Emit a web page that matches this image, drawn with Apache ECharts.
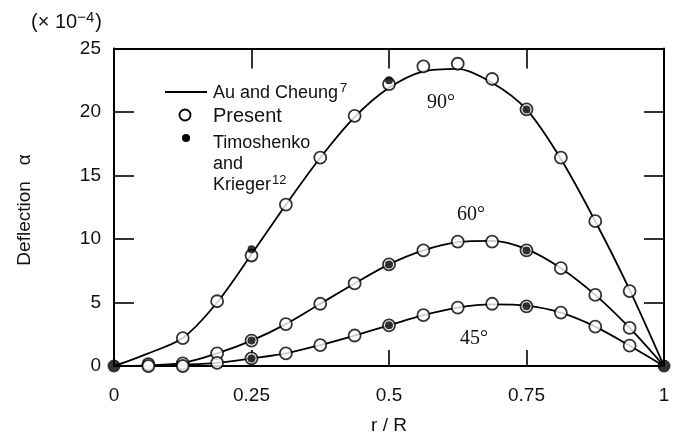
<!DOCTYPE html>
<html>
<head>
<meta charset="utf-8">
<script src="https://cdn.jsdelivr.net/npm/echarts@6/dist/echarts.min.js"></script>
<style>
    html, body { margin: 0; padding: 0; background: #fff; }
    #main { width: 676px; height: 435px; }
</style>
</head>
<body>
<div id="main"></div>
<script>
// r/R positions of the computed points
var rValues = [0, 0.0625, 0.125, 0.1875, 0.25, 0.3125, 0.375, 0.4375, 0.5,
    0.5625, 0.625, 0.6875, 0.75, 0.8125, 0.875, 0.9375, 1];

// Au and Cheung (solid curves), x 10^-4
var auCheung90 = [0, 1.0, 2.2, 5.0, 8.8, 12.7, 16.4, 19.6, 21.9, 23.2, 23.4, 22.3, 20.2, 16.3, 11.4, 6.0, 0];
var auCheung60 = [0, 0.05, 0.25, 1.0, 2.0, 3.3, 4.9, 6.5, 8.0, 9.1, 9.75, 9.85, 9.2, 7.7, 5.6, 3.0, 0];
var auCheung45 = [0, 0, 0.1, 0.25, 0.6, 1.0, 1.65, 2.4, 3.2, 4.0, 4.6, 4.85, 4.75, 4.2, 3.1, 1.6, 0];

// Present (open circles)
var present90 = [null, null, 2.2, 5.1, 8.7, 12.7, 16.4, 19.7, 22.2, 23.6, 23.8, 22.6, 20.2, 16.4, 11.4, 5.9, null];
var present60 = [null, 0.15, 0.2, 1.0, 2.0, 3.3, 4.9, 6.5, 8.0, 9.1, 9.8, 9.8, 9.1, 7.7, 5.6, 3.0, null];
var present45 = [null, 0, 0, 0.25, 0.6, 1.0, 1.65, 2.4, 3.2, 4.0, 4.6, 4.9, 4.7, 4.2, 3.1, 1.6, null];

// Timoshenko and Krieger (filled dots)
var timoR = [0.25, 0.5, 0.75];
var timo90 = [9.2, 22.5, 20.2];
var timo60 = [2.0, 8.0, 9.1];
var timo45 = [0.6, 3.2, 4.7];
var endR = [0, 1];
var endValues = [0, 0];

var yTicks = [0, 5, 10, 15, 20, 25];

function pairs(xs, ys) {
    var out = [];
    for (var i = 0; i < xs.length; i++) {
        if (ys[i] !== null) out.push([xs[i], ys[i]]);
    }
    return out;
}

var myChart = echarts.init(document.getElementById('main'));
var font = '"Liberation Sans", Arial, sans-serif';
var serif = '"Liberation Serif", "Times New Roman", serif';
var axisLine = { show: true, onZero: false, lineStyle: { color: '#000', width: 2 } };

function curve(values) {
    return {
        type: 'line', data: pairs(rValues, values), smooth: 0.3,
        showSymbol: false, symbol: 'none', z: 2,
        lineStyle: { color: '#000', width: 1.8 }
    };
}
function circles(values) {
    return {
        type: 'scatter', data: pairs(rValues, values), symbol: 'circle',
        symbolSize: 12, clip: false, z: 3,
        itemStyle: { color: '#fff', borderColor: '#000', borderWidth: 1.8 }
    };
}
function dots(values) {
    return {
        type: 'scatter', data: pairs(timoR, values), symbol: 'circle',
        symbolSize: 8, clip: false, z: 4,
        itemStyle: { color: '#000' }
    };
}

var option = {
    animation: false,
    backgroundColor: '#fff',
    grid: { left: 114, right: 12, top: 48.5, bottom: 69, outerBoundsMode: 'none' },
    xAxis: [{
        type: 'value', min: 0, max: 1, interval: 0.25, position: 'bottom',
        axisLine: axisLine,
        axisTick: { inside: true, length: 16, lineStyle: { color: '#000', width: 1.6 } },
        axisLabel: { margin: 20, color: '#111', fontSize: 19, fontFamily: font },
        splitLine: { show: false },
        name: 'r / R', nameLocation: 'middle', nameGap: 50,
        nameTextStyle: { color: '#111', fontSize: 19, fontFamily: font }
    }, {
        type: 'value', min: 0, max: 1, interval: 0.25, position: 'top',
        axisLine: axisLine,
        axisTick: { inside: true, length: 20, lineStyle: { color: '#000', width: 1.6 } },
        axisLabel: { show: false },
        splitLine: { show: false }
    }],
    yAxis: [{
        type: 'value', min: yTicks[0], max: yTicks[yTicks.length - 1], interval: 5, position: 'left',
        axisLine: axisLine,
        axisTick: { inside: true, length: 20, lineStyle: { color: '#000', width: 1.6 } },
        axisLabel: { margin: 13, color: '#111', fontSize: 19, fontFamily: font },
        splitLine: { show: false }
    }, {
        type: 'value', min: yTicks[0], max: yTicks[yTicks.length - 1], interval: 5, position: 'right',
        axisLine: axisLine,
        axisTick: { inside: true, length: 20, lineStyle: { color: '#000', width: 1.6 } },
        axisLabel: { show: false },
        splitLine: { show: false }
    }],
    series: [
        curve(auCheung90), curve(auCheung60), curve(auCheung45),
        circles(present90), circles(present60), circles(present45),
        dots(timo90), dots(timo60), dots(timo45),
        {
            type: 'scatter', data: pairs(endR, endValues), symbol: 'circle',
            symbolSize: 13, clip: false, z: 5, itemStyle: { color: '#000' }
        }
    ],
    graphic: [
        // y-axis unit and title
        {
            type: 'text', left: 31, top: 10,
            style: {
                text: '(× 10{s|−4})', fill: '#111', font: '20px ' + font,
                rich: { s: { fontSize: 15, fontFamily: font, verticalAlign: 'top', padding: [0, 1, 9, 0] } }
            }
        },
        {
            type: 'text', x: 25, y: 210, rotation: Math.PI / 2,
            style: {
                text: 'Deflection   α', fill: '#111', font: '19px ' + font,
                textAlign: 'center', textVerticalAlign: 'middle'
            }
        },
        // legend
        { type: 'line', shape: { x1: 165, y1: 92, x2: 207, y2: 92 }, style: { stroke: '#000', lineWidth: 2 } },
        {
            type: 'text', x: 213, y: 93,
            style: {
                text: 'Au and Cheung{s|7}', fill: '#111', font: '18px ' + font,
                textVerticalAlign: 'middle',
                rich: { s: { fontSize: 13, fontFamily: font, padding: [0, 0, 10, 2] } }
            }
        },
        { type: 'circle', shape: { cx: 185, cy: 115, r: 5.5 }, style: { fill: '#fff', stroke: '#000', lineWidth: 1.8 } },
        { type: 'text', x: 213, y: 116, style: { text: 'Present', fill: '#111', font: '20px ' + font, textVerticalAlign: 'middle' } },
        { type: 'circle', shape: { cx: 186, cy: 138, r: 4 }, style: { fill: '#000' } },
        { type: 'text', x: 213, y: 143, style: { text: 'Timoshenko', fill: '#111', font: '18px ' + font, textVerticalAlign: 'middle' } },
        { type: 'text', x: 213, y: 164, style: { text: 'and', fill: '#111', font: '18px ' + font, textVerticalAlign: 'middle' } },
        {
            type: 'text', x: 213, y: 185,
            style: {
                text: 'Krieger{s|12}', fill: '#111', font: '18px ' + font,
                textVerticalAlign: 'middle',
                rich: { s: { fontSize: 13, fontFamily: font, padding: [0, 0, 10, 1] } }
            }
        },
        // curve labels
        { type: 'text', x: 441, y: 103, style: { text: '90°', fill: '#111', font: '20px ' + serif, textAlign: 'center', textVerticalAlign: 'middle' } },
        { type: 'text', x: 471, y: 215, style: { text: '60°', fill: '#111', font: '20px ' + serif, textAlign: 'center', textVerticalAlign: 'middle' } },
        { type: 'text', x: 474, y: 339, style: { text: '45°', fill: '#111', font: '20px ' + serif, textAlign: 'center', textVerticalAlign: 'middle' } }
    ]
};

// 使用刚指定的配置项和数据显示图表。
myChart.setOption(option);
</script>
</body>
</html>
